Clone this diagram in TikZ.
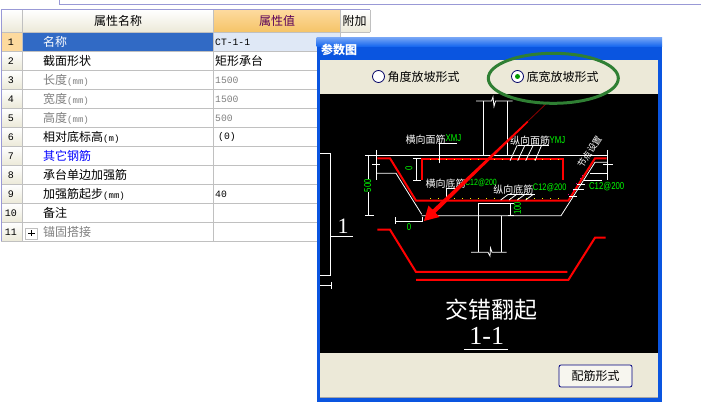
\documentclass[tikz,border=0pt]{standalone}
\usepackage{fontspec}
\setmainfont{Noto Sans CJK SC}
\newfontfamily\monof{Liberation Mono}
\newfontfamily\cadfont[FakeStretch=0.78]{Liberation Sans}
\newfontfamily\capfont{Liberation Serif}
\definecolor{gridline}{HTML}{C0C0C0}
\definecolor{beige}{HTML}{ECE9D8}
\definecolor{winblue}{HTML}{0A55E0}
\definecolor{titleblue}{HTML}{0F62EE}
\definecolor{selblue}{HTML}{316AC5}
\definecolor{valblue}{HTML}{DFE8F6}
\definecolor{greytext}{HTML}{808080}
\definecolor{hdrtop}{HTML}{FDDA9E}
\definecolor{hdrbot}{HTML}{F5C468}
\definecolor{cadgreen}{HTML}{00FF00}
\definecolor{ringgreen}{HTML}{2F7F33}
\tikzset{
  cellname/.style={anchor=west, inner sep=0pt, font=\fontsize{12}{12}\selectfont},
  cellval/.style={anchor=west, inner sep=0pt, font=\monof\fontsize{9.7}{10}\selectfont},
  rownum/.style={inner sep=0pt, font=\monof\fontsize{10}{10}\selectfont},
  cadwhite/.style={inner sep=0pt, text=white, font=\fontsize{10}{10}\selectfont},
  cadgreentxt/.style={inner sep=0pt, text=cadgreen, font=\cadfont\fontsize{10}{10}\selectfont},
  cadline/.style={draw=white, line width=0.8pt},
  rebar/.style={draw=red, line width=2pt},
  radio/.style={circle, draw=black!60!blue, fill=white, minimum size=12pt, inner sep=0pt, line width=0.8pt},
}
\begin{document}
\begin{tikzpicture}[x=1pt, y=-1pt]
  \useasboundingbox (0,0) rectangle (701,411);
  \fill [white] (0,0) rectangle (701,411);
  % strip above the table
  \draw [color=black!40!blue!40!white, line width=0.8pt] (59.5,0) -- (59.5,4) -- (701,4);

  % table head
  \shade [top color=white, bottom color=beige] (1,10) rectangle (213,32);
  \shade [top color=hdrtop, bottom color=hdrbot] (213,10) rectangle (340,32);
  \shade [top color=white, bottom color=beige] (340,10) rectangle (370,32);
  \node (headname) at (118,21) [inner sep=0pt, font=\fontsize{12}{12}\selectfont] {属性名称};
  \node (headval) at (277,21) [inner sep=0pt, text=violet!70!black, font=\fontsize{12}{12}\selectfont] {属性值};
  \node (headadd) at (354.5,21) [inner sep=0pt, font=\fontsize{12}{12}\selectfont] {附加};

  % first row is the selected one
  \fill [hdrtop] (1,32.5) rectangle (22,51.5);
  \fill [selblue] (22,32.5) rectangle (213,51.5);
  \fill [valblue] (213,32.5) rectangle (340,51.5);
  \foreach \n in {2,...,11}
    \shade [top color=white, bottom color=beige] (1,13.5+19*\n) rectangle (22,32.5+19*\n);

  % grid
  \foreach \n in {0,...,11}
    \draw [gridline, line width=0.8pt] (1,32.5+19*\n) -- (340,32.5+19*\n);
  \draw [gridline, line width=0.8pt] (22.5,10) -- (22.5,241.5);
  \draw [gridline, line width=0.8pt] (213.5,10) -- (213.5,241.5);
  \draw [gridline, line width=0.8pt] (340.5,10) -- (340.5,241.5);
  \draw [gridline, line width=0.8pt] (370,10) -- (370,32.5) (340,32.5) -- (370,32.5);
  \draw [color=black!40!blue!40!white, line width=0.8pt] (370,9.5) -- (1,9.5) -- (1,241.5);

  % rows
  \foreach \n/\lbl/\colr in {1/名称/white, 2/截面形状/black, 3/长度{\monof\small(mm)}/greytext,
      4/宽度{\monof\small(mm)}/greytext, 5/高度{\monof\small(mm)}/greytext,
      6/相对底标高{\monof\small(m)}/black, 7/其它钢筋/blue, 8/承台单边加强筋/black,
      9/加强筋起步{\monof\small(mm)}/black, 10/备注/black, 11/锚固搭接/greytext} {
    \node (num\n) at (11,23+19*\n) [rownum] {\n};
    \node (name\n) at (43,23+19*\n) [cellname, text=\colr] {\lbl};
  }
  \node (val1) at (215,42) [cellval] {CT-1-1};
  \node (val2) at (215,61) [cellname] {矩形承台};
  \node (val3) at (215,80) [cellval, text=greytext] {1500};
  \node (val4) at (215,99) [cellval, text=greytext] {1500};
  \node (val5) at (215,118) [cellval, text=greytext] {500};
  \node (val6) at (218,137) [cellval] {(0)};
  \node (val9) at (215,194) [cellval] {40};
  \draw [gridline, fill=white, line width=0.8pt] (25.5,228) rectangle (37,239);
  \draw [line width=0.8pt] (28,233.5) -- (34.5,233.5) (31.25,230.5) -- (31.25,236.5);

  % dialog
  \fill [winblue] (316.5,38) rectangle (662,402);
  \shade [top color=titleblue!60!white, bottom color=titleblue] (316.5,38) rectangle (662,47);
  \fill [beige] (320,60) rectangle (658,94);
  \fill [black] (320,94) rectangle (658,353);
  \fill [beige] (320,353) rectangle (658,397);
  \draw [black!35, line width=0.6pt] (320,397) -- (658,397);
  \node (title) at (339,50) [inner sep=0pt, text=white, font=\bfseries\fontsize{12}{12}\selectfont] {参数图};
  \node (radioA) at (378.5,76.5) [radio] {};
  \node (radioB) at (517.5,76.5) [radio] {};
  \fill [green!60!black] (radioB) circle (2.5pt);
  \node (labelA) at (423.5,77) [inner sep=0pt, font=\fontsize{12}{12}\selectfont] {角度放坡形式};
  \node (labelB) at (562.5,77) [inner sep=0pt, font=\fontsize{12}{12}\selectfont] {底宽放坡形式};
  \node (btn) at (595.5,376) [draw=black!50!blue, fill=white!60!beige, rounded corners=2pt, minimum width=73pt,
      minimum height=22pt, inner sep=0pt, line width=0.8pt, font=\fontsize{12}{12}\selectfont] {配筋形式};

  % section marks on the left
  \draw [cadline] (320,153.5) -- (330.7,153.5) -- (330.7,275) -- (320,275);
  \draw [cadline] (330.7,236.3) -- (352.7,236.3);
  \draw [cadline] (320,285.5) -- (331,285.5) (331,282) -- (331,289);
  \node (mark1) at (343,226) [inner sep=0pt, text=white, font=\capfont\fontsize{22}{22}\selectfont] {1};

  % column with its break lines
  \draw [cadline] (476,101) -- (491.5,101) -- (493,97) -- (494,106.5) -- (495.5,101) -- (512.7,101);
  \draw [cadline] (483.3,101) -- (483.3,155.5) (507.3,101) -- (507.3,155.5);
  \draw [cadline] (471,252.3) -- (488,252.3) -- (490,256) -- (490.5,248) -- (492,252.3) -- (506.7,252.3);
  \draw [cadline] (478.3,203.3) -- (478.3,252.3) (501.7,215.7) -- (501.7,252.3);

  % outline of the footing
  \draw [cadline] (365,155.6) -- (607,155.6);
  \draw [cadline] (376.7,150) -- (376.7,180);
  \draw [cadline] (376.7,173.3) -- (396,173.3) -- (421.7,214.3);
  \draw [cadline] (421.7,215.7) -- (561,215.7) -- (595,162.3) -- (607.3,162.3);
  \draw [cadline] (478.3,203.3) -- (513,203.3);
  \draw [cadline] (372,164) -- (380,164) (607.3,150) -- (607.3,180) (603,164) -- (612.7,164);

  % dimensions
  \draw [cadline] (368,155) -- (368,215.7) (365,155.6) -- (372,155.6) (365,215.7) -- (374,215.7);
  \node (dim500) at (367.7,185.7) [fill=black, inner sep=0.5pt, rotate=90, cadgreentxt] {500};
  \draw [cadline] (416.7,158.5) -- (416.7,180.7) (413,158.5) -- (421,158.5) (413,180.7) -- (421,180.7);
  \node (dimA) at (409,168.5) [rotate=90, cadgreentxt] {0};
  \draw [cadline] (395,221) -- (422.7,221) (395,217.5) -- (395,224.5) (422.7,217) -- (422.7,222.5);
  \node (dimB) at (409,227) [cadgreentxt] {0};
  \draw [cadline] (510.7,203) -- (510.7,216) (507.5,203.3) -- (514,203.3) (507.5,215.7) -- (514,215.7);
  \node (dimC) at (517.3,208.3) [rotate=90, cadgreentxt] {100};

  % rebar
  \draw [rebar] (377.3,158.3) -- (390,158.3) -- (416,200.7) -- (568.3,200.7) -- (595,158.3) -- (606.7,158.3);
  \draw [rebar] (421.7,180) -- (421.7,158.6) -- (563.3,158.6) -- (563.3,180);
  \foreach \x in {430,438,...,558} {
    \fill [yellow] (\x,159) rectangle +(1,1);
    \fill [yellow] (\x,198) rectangle +(1,1);
  }
  \draw [rebar] (377.3,229.7) -- (390,229.7) -- (416,272) -- (567.3,272);
  \draw [rebar] (416,280) -- (568.3,280) -- (595,237.7) -- (605.7,237.7);

  % leaders and their labels
  \draw [cadline] (439.3,163.3) -- (439.3,143.3) -- (456.7,143.3);
  \node (topX) at (425.5,139.3) [cadwhite] {横向面筋};
  \node (topXv) at (453.5,138.5) [cadgreentxt] {XMJ};
  \draw [cadline] (446.7,200) -- (446.7,188.3) -- (460,188.3);
  \node (botX) at (445.5,183.3) [cadwhite] {横向底筋};
  \node (botXv) at (481,183) [cadgreentxt, font=\cadfont\fontsize{9}{10}\selectfont] {C12@200};
  \draw [cadline] (518.3,145) -- (549,145);
  \foreach \a/\b in {517.3/510, 525/517.7, 533.3/525.7, 541.7/535}
    \draw [cadline] (\a,145) -- (\b,160.7);
  \node (topY) at (530,140.7) [cadwhite] {纵向面筋};
  \node (topYv) at (557.5,140) [cadgreentxt] {YMJ};
  \draw [cadline] (508.3,194.3) -- (535,194.3);
  \foreach \a/\b in {508.3/500.7, 516.7/509, 525/517.3, 533.3/525.7}
    \draw [cadline] (\a,194.3) -- (\b,200);
  \node (botY) at (513.4,189.3) [cadwhite] {纵向底筋};
  \node (botYv) at (549.7,187.7) [cadgreentxt, font=\cadfont\fontsize{9.5}{10}\selectfont] {C12@200};

  % hatch of the slope
  \foreach \xa/\xb/\yy in {590/607.3/173.3, 584/601.7/180, 576.7/585/184.3, 573/584/189, 569/577/196}
    \draw [cadline] (\xa,\yy) -- (\xb,\yy);
  \foreach \x/\y in {581.7/175, 580/178.3, 575.7/183.3, 573/190, 568.3/194.3}
    \fill [magenta] (\x,\y) rectangle +(1,1);
  \node (slopeV) at (606.7,186.7) [cadgreentxt] {C12@200};
  \node (slopeT) at (589.5,152) [cadwhite, rotate=57, font=\fontsize{9}{9}\selectfont] {节点设置};

  % caption
  \node (capA) at (491.7,310) [inner sep=0pt, text=white, font=\fontsize{23}{23}\selectfont] {交错翻起};
  \node (capB) at (486.7,336) [inner sep=0pt, text=white, font=\capfont\fontsize{26}{26}\selectfont] {1-1};
  \draw [cadline] (464,349.3) -- (507.7,349.3);

  % big arrow and ring
  \draw [red!55!black, line width=0.8pt] (527,122) -- (548,102);
  \fill [red] (424,221) -- (428.5,205.5) -- (432.5,209.7) -- (527.2,121) -- (528.3,122.2) -- (435.5,212.9) -- (439.5,217) -- cycle;
  \draw [ringgreen, line width=3pt] (553.3,78.3) ellipse (65pt and 25pt);
\end{tikzpicture}
\end{document}
